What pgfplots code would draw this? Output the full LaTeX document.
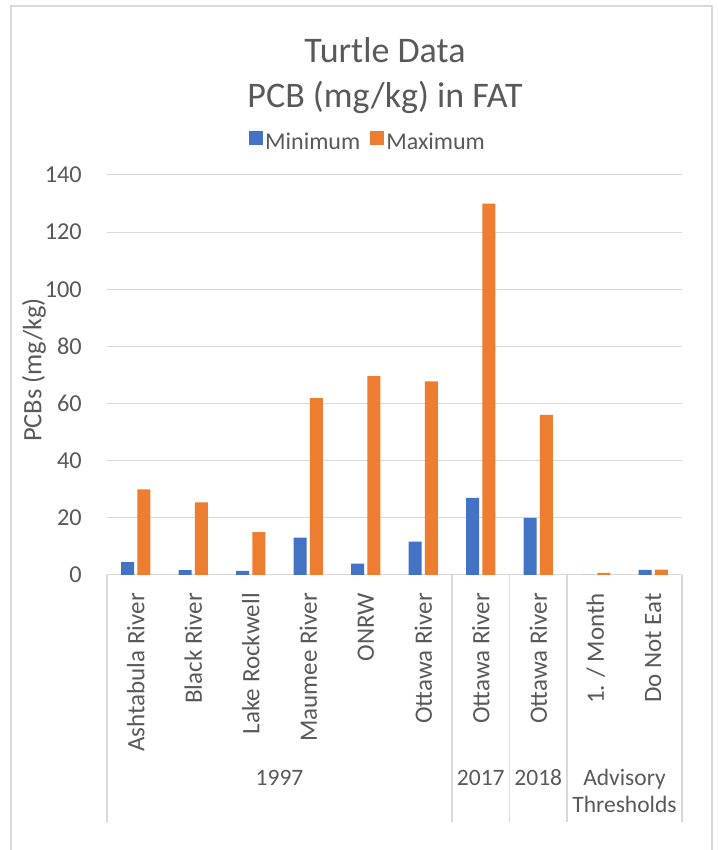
\documentclass[border=0pt]{standalone}
\usepackage{pgfplots}
\pgfplotsset{compat=1.18}
\usepackage{fontspec}
\setmainfont{Carlito}
\definecolor{exblue}{HTML}{4472C4}
\definecolor{exorange}{HTML}{ED7D31}
\definecolor{txt}{HTML}{595959}
\definecolor{grd}{HTML}{D9D9D9}
\begin{document}
\begin{tikzpicture}
\useasboundingbox (0pt,0pt) rectangle (717pt,850pt);
\fill[white] (0pt,0pt) rectangle (717pt,850pt);
\draw[grd, line width=1.3pt] (11pt,-5pt) rectangle (712pt,844pt);
\node[txt, font=\fontsize{36}{44}\selectfont, anchor=base] at (385pt,787pt) {Turtle Data};
\node[txt, font=\fontsize{36}{44}\selectfont, anchor=base] at (385pt,742pt) {PCB (mg/kg) in FAT};
\begin{axis}[
  at={(107pt,275pt)}, anchor=south west,
  scale only axis, width=575pt, height=400pt,
  ybar, bar width=13pt,
  xmin=-0.5, xmax=9.5, ymin=0, ymax=140,
  enlargelimits=false, clip=false,
  xtick={0,...,9},
  xticklabels={Ashtabula River, Black River, Lake Rockwell, Maumee River, ONRW, Ottawa River, Ottawa River, Ottawa River, 1. / Month, Do Not Eat},
  ytick={0,20,...,140},
  major tick length=0pt,
  axis line style={draw=none},
  ymajorgrids, grid style={grd, line width=1pt},
  /pgf/number format/assume math mode=true,
  tick label style={text=txt},
  xticklabel style={rotate=90, anchor=east, inner sep=0pt, font=\fontsize{25}{30}\selectfont},
  xticklabel shift=18pt,
  yticklabel style={anchor=east, inner sep=0pt, font=\fontsize{24.3}{29}\selectfont},
  yticklabel shift=25pt,
  ylabel={PCBs (mg/kg)},
  ylabel style={at={(axis description cs:-0.127,0.5125)}, anchor=center, font=\fontsize{26.5}{30}\selectfont, text=txt},
  legend style={draw=none, fill=none, at={(0.454,1.0825)}, anchor=center, legend columns=2,
    font=\fontsize{24}{28}\selectfont, text=txt,
    /tikz/every even column/.append style={column sep=8pt}},
  legend image code/.code={\fill[#1] (0pt,-3pt) rectangle (14pt,11pt);},
]
\addplot[fill=exblue, draw=none, bar shift=-8.2pt] coordinates {
 (0,4.5) (1,1.7) (2,1.4) (3,13.1) (4,4.0) (5,11.7) (6,27) (7,20) (8,0) (9,1.8)};
\addplot[fill=exorange, draw=none, bar shift=8.2pt] coordinates {
 (0,30) (1,25.4) (2,15) (3,61.9) (4,69.6) (5,67.8) (6,130) (7,56) (8,0.7) (9,1.9)};
\legend{Minimum, Maximum}
\pgfplotsinvokeforeach{-0.5,5.5,6.5,7.5,9.5}{
  \draw[grd, line width=1.3pt] (axis cs:#1,0) -- ++(0pt,-247pt);
}
\node[txt, font=\fontsize{23.5}{28}\selectfont, anchor=base] at ([yshift=-210pt]axis cs:2.5,0) {1997};
\node[txt, font=\fontsize{23.5}{28}\selectfont, anchor=base] at ([yshift=-210pt]axis cs:6,0) {2017};
\node[txt, font=\fontsize{23.5}{28}\selectfont, anchor=base] at ([yshift=-210pt]axis cs:7,0) {2018};
\node[txt, font=\fontsize{23.5}{28}\selectfont, anchor=base] at ([yshift=-210pt]axis cs:8.5,0) {Advisory};
\node[txt, font=\fontsize{23.5}{28}\selectfont, anchor=base] at ([yshift=-237pt]axis cs:8.5,0) {Thresholds};
\end{axis}
\end{tikzpicture}
\end{document}
